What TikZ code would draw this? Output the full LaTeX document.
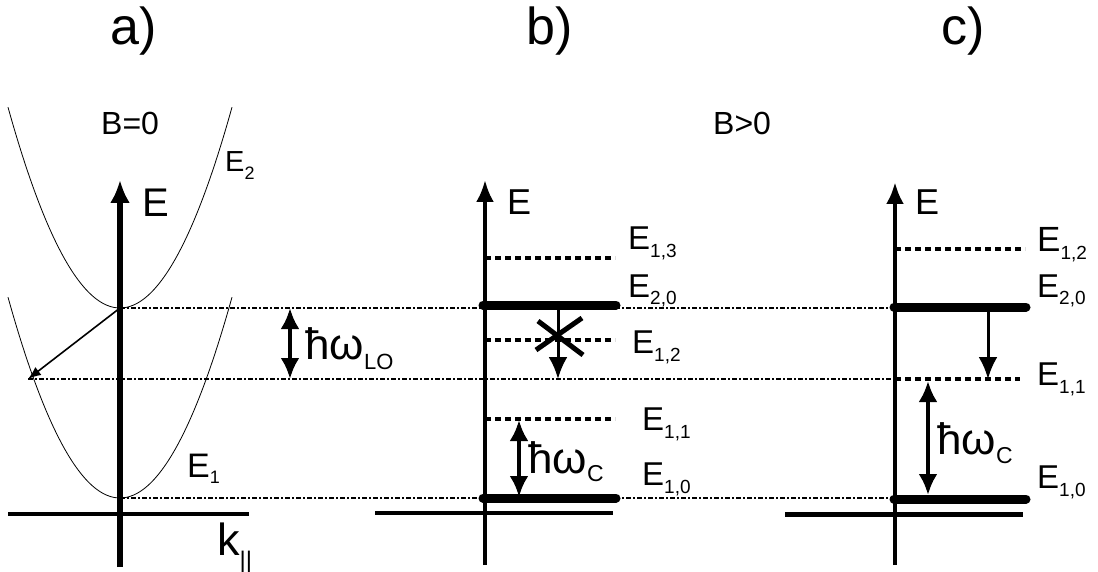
\documentclass[tikz,border=0pt]{standalone}
\usepackage{fontspec}
\setmainfont{Liberation Sans}
\usetikzlibrary{arrows.meta}
\newcommand{\fs}[1]{\fontsize{#1}{#1}\selectfont}
\newcommand{\lsub}[2][19]{\raisebox{-8pt}{\fs{#1}#2}}
\begin{document}
\begin{tikzpicture}[x=1pt,y=-1pt,
  lbl/.style={inner sep=0pt,anchor=base west},
  haxis/.style={line width=4pt},
  guide/.style={line width=1.7pt,dash pattern=on 5pt off 2pt on 2pt off 2pt},
  level/.style={line width=3.5pt,dash pattern=on 6pt off 4pt},
  thicklevel/.style={line width=9pt,line cap=round},
  dbl/.style={line width=4.5pt,{Latex[length=21pt,width=19pt]}-{Latex[length=21pt,width=19pt]}},
  trans/.style={line width=3pt,-{Latex[length=22pt,width=19pt]}},
  band/.style={line width=0.8pt}]
\useasboundingbox (0,0) rectangle (1098,572);

% ---------- titles ----------
\node[lbl] (ta) at (110,45) {\fs{52}a)};
\node[lbl] (tb) at (526,45) {\fs{52}b)};
\node[lbl] (tc) at (941,45) {\fs{52}c)};
\node[lbl] (b0) at (101,135) {\fs{32}B=0};
\node[lbl] (bp) at (713,135) {\fs{32}B>0};

% ---------- coordinates ----------
\coordinate (v2) at (120,308);
\coordinate (v1) at (120,498);
\coordinate (kend) at (28,379);
\coordinate (g2e) at (893,308);
\coordinate (g1e) at (893,498);
\coordinate (gLOe) at (895,379);

% ---------- guide lines ----------
\draw[guide] (v2) -- (g2e);
\draw[guide,line width=2.2pt] (kend) -- (gLOe);
\draw[guide] (v1) -- (g1e);

% ---------- panel a ----------
\draw[band] plot[domain=8:232,samples=60,smooth] (\x,{308-0.016*(\x-120)*(\x-120)});
\draw[band] plot[domain=8:232,samples=60,smooth] (\x,{498-0.016*(\x-120)*(\x-120)});
\coordinate (aB) at (120,567);
\coordinate (aT) at (120,180);
\coordinate (aL) at (8,514);
\coordinate (aR) at (249,514);
\draw[haxis] (aL) -- (aR);
\draw[line width=6pt,-{Latex[length=23pt,width=20pt]}] (aB) -- (aT);
\node[lbl] (aE) at (142,217) {\fs{40}E};
\node[lbl] (E2) at (225,172) {\fs{29}E\lsub[18]{2}};
\node[lbl] (E1) at (187,477) {\fs{34}E\raisebox{-6pt}{\fs{18}1}};
\node[lbl] (kpar) at (217,555) {\fs{45}k\raisebox{-13pt}{\fs{24}||}};
\draw[line width=1.6pt,-{Latex[length=13pt,width=10pt]}] (v2) -- (kend);
\coordinate (loT) at (290,308);
\coordinate (loB) at (290,379);
\draw[dbl] (loT) -- (loB);
\node[lbl] (hlo) at (305,359) {\fs{44}ħω\raisebox{-10pt}{\fs{22}LO}};

% ---------- panel b ----------
\coordinate (bB) at (485,565);
\coordinate (bT) at (485,180);
\coordinate (bL) at (375,513);
\coordinate (bR) at (613,513);
\draw[level] (485,258) coordinate (b13l) -- (615,258) coordinate (b13r);
\draw[level] (485,340) coordinate (b12l) -- (615,340) coordinate (b12r);
\draw[level] (485,419) coordinate (b11l) -- (615,419) coordinate (b11r);
\draw[thicklevel] (483,305) coordinate (b20l) -- (616,305) coordinate (b20r);
\draw[thicklevel] (483,498) coordinate (b10l) -- (616,498) coordinate (b10r);
\draw[haxis] (bL) -- (bR);
\draw[line width=4pt,-{Latex[length=22pt,width=18pt]}] (bB) -- (bT);
\node[lbl] (bE) at (507,215) {\fs{36}E};
\node[lbl] (bl13) at (628,250) {\fs{33}E\lsub{1,3}};
\node[lbl] (bl20) at (628,297) {\fs{33}E\lsub{2,0}};
\node[lbl] (bl12) at (632,353) {\fs{33}E\lsub{1,2}};
\node[lbl] (bl11) at (642,430) {\fs{33}E\lsub{1,1}};
\node[lbl] (bl10) at (642,485) {\fs{33}E\lsub{1,0}};
\coordinate (bdT) at (558,305);
\coordinate (bdB) at (558,379);
\draw[trans] (bdT) -- (bdB);
\coordinate (x1) at (538,321);
\coordinate (x2) at (583,355);
\coordinate (x3) at (536,350);
\coordinate (x4) at (582,318);
\draw[line width=5pt] (x1) -- (x2);
\draw[line width=5pt] (x3) -- (x4);
\coordinate (bcT) at (519,420);
\coordinate (bcB) at (519,497);
\draw[dbl] (bcT) -- (bcB);
\node[lbl] (bhc) at (528,473) {\fs{44}ħω\raisebox{-8pt}{\fs{23}C}};

% ---------- panel c ----------
\coordinate (cB) at (895,565);
\coordinate (cT) at (895,182);
\coordinate (cL) at (785,514);
\coordinate (cR) at (1023,514);
\draw[level] (895,249) coordinate (c12l) -- (1025,249) coordinate (c12r);
\draw[level] (gLOe) -- (1020,379) coordinate (c11r);
\draw[thicklevel] (894,307) coordinate (c20l) -- (1026,307) coordinate (c20r);
\draw[thicklevel] (894,499) coordinate (c10l) -- (1026,499) coordinate (c10r);
\draw[line width=5pt] (cL) -- (cR);
\draw[line width=4.5pt,-{Latex[length=22pt,width=18pt]}] (cB) -- (cT);
\node[lbl] (cE) at (915,215) {\fs{36}E};
\node[lbl] (cl12) at (1037,252) {\fs{35}E\lsub{1,2}};
\node[lbl] (cl20) at (1037,297) {\fs{33}E\lsub{2,0}};
\node[lbl] (cl11) at (1037,385) {\fs{33}E\lsub{1,1}};
\node[lbl] (cl10) at (1037,488) {\fs{33}E\lsub{1,0}};
\coordinate (cdT) at (988,307);
\coordinate (cdB) at (988,379);
\draw[trans] (cdT) -- (cdB);
\coordinate (ccT) at (928,381);
\coordinate (ccB) at (928,495);
\draw[dbl] (ccT) -- (ccB);
\node[lbl] (chc) at (937,454) {\fs{44}ħω\raisebox{-9pt}{\fs{23}C}};
\end{tikzpicture}
\end{document}
